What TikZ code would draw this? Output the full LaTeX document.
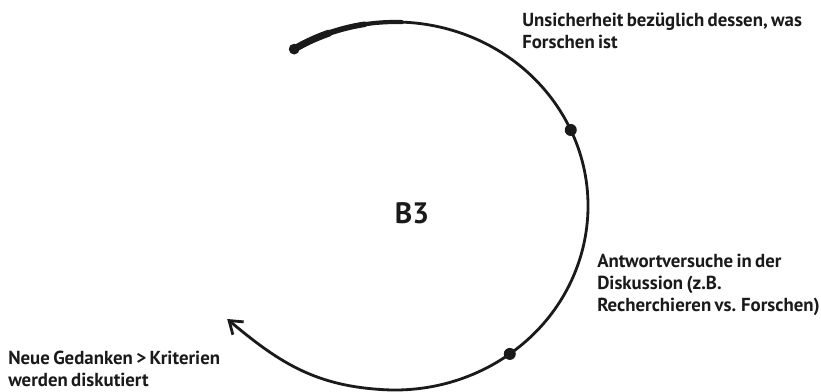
\documentclass[tikz,border=0pt]{standalone}
\usepackage{fontspec}
\setmainfont{PT Sans}[WordSpace=0.7]
\usetikzlibrary{arrows.meta}
\definecolor{ink}{HTML}{1A1A1A}
\begin{document}
\begin{tikzpicture}[>={Straight Barb[length=3mm,width=4.2mm]}, scale=1]
	\tikzset{
		lbl/.style={anchor=north west, align=left, inner sep=0pt, text=ink,
			font=\bfseries\fontsize{13.4}{15.6}\selectfont},
		dot/.style={circle, fill=ink, inner sep=0pt, minimum size=0.3cm},
		loop/.style={draw=ink, line width=2pt, line cap=round}
	}
	\useasboundingbox (0,0) rectangle (20.525,9.775);
	% centre of the cycle
	\coordinate (c) at (9.875,4.625);
	\coordinate (start) at ([shift={(c)}]121.5:4.825 and 4.6);
	\coordinate (low) at ([shift={(c)}]-95:4.825 and 4.6);
	\coordinate (tip) at (5.68,1.8);
	% the cycle itself, thicker where it starts
	\foreach \w/\e in {5pt/110, 4pt/99, 3pt/88}
		\draw[loop, line width=\w] (start) arc[start angle=121.5, end angle=\e, x radius=4.825, y radius=4.6];
	\draw[loop] (start) arc[start angle=121.5, end angle=-95, x radius=4.825, y radius=4.6];
	\draw[loop, ->] (low) to[out=176, in=-40] (tip);
	\node[dot] (d1) at ([shift={(c)}]24.4:4.825 and 4.6) {};
	\node[dot] (d2) at ([shift={(c)}]-53.5:4.825 and 4.6) {};
	\node[circle, fill=ink, inner sep=0pt, minimum size=0.27cm] (s) at (start) {};
	% labels
	\node[text=ink, font=\bfseries\fontsize{21}{24}\selectfont] (b3) at (10.3,4.45) {B3};
	\node[lbl] (unsicher) at (13.05,9.45) {Unsicherheit bezüglich dessen, was\\Forschen ist};
	\node[lbl] (antwort) at (14.925,3.425) {Antwortversuche in der\\Diskussion (z.B.\\Recherchieren vs. Forschen)};
	\node[lbl] (neue) at (0.2,1.0) {Neue Gedanken > Kriterien\\werden diskutiert};
\end{tikzpicture}
\end{document}
